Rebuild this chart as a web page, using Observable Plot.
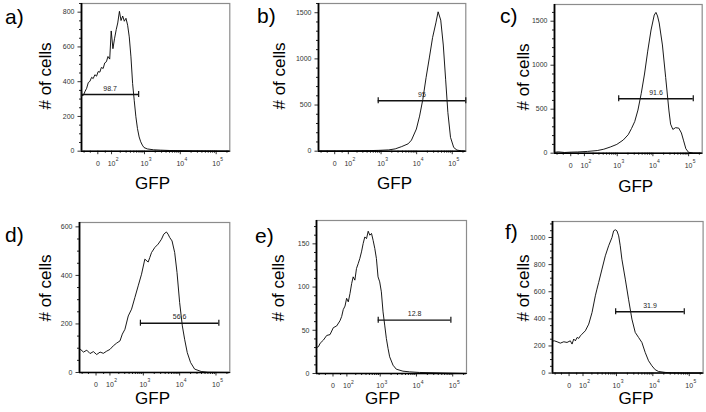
<!DOCTYPE html>
<html><head><meta charset="utf-8">
<script src="https://cdn.jsdelivr.net/npm/d3@7"></script>
<script src="https://cdn.jsdelivr.net/npm/@observablehq/plot@0.6"></script>
<style>
body{margin:0;background:#fff;}
#wrap{position:relative;width:706px;height:412px;overflow:hidden;background:#fff;font-family:"Liberation Sans",Arial,sans-serif;}
.lbl{position:absolute;white-space:nowrap;line-height:1;color:#000;}
</style></head><body><div id="wrap"></div>
<script>
// ---- data (GFP intensity, # of cells) ----
const gfpA = [-125,-106,-91,-78,-65,-53,-41,-30,-19,-8,2,13,23,35,46,58,70,84,97,113,130,148,166,188,211,237,265,297,332,370,414,462,513,572,635,707,784,870,968,1200,1800,2800,5000,20000,240000];
const countA = [320,322,345,362,395,402,425,418,440,432,458,455,482,476,508,515,545,530,692,590,650,700,738,805,752,778,748,765,725,658,543,389,293,198,130,82,54,35,21,13,8,6,4,2,0];

const gfpB = [-125,13,147,458,869,1640,2500,3810,5780,7160,9820,12100,14900,18460,22700,28000,34700,40100,47500,56000,65100,75300,89300,110000,135500,185700,240000];
const countB = [3,3,4,6,9,14,25,50,80,120,240,380,560,800,1010,1230,1390,1510,1420,1150,780,420,150,40,12,3,0];

const gfpC = [-125,-90,-40,2.5,46,130,267,414,636,973,1480,2030,2510,3100,3810,4720,5820,7160,8870,10900,12160,13450,15000,18460,22800,28200,31300,36200,43000,53000,62800,72600,83900,99500,136000,240000];
const countC = [10,15,8,12,14,20,30,45,70,100,150,210,280,360,490,680,900,1160,1400,1570,1600,1560,1480,1230,860,480,330,270,290,285,230,140,50,10,2,0];

const gfpD = [-125,-112,-88,-62,-39,-17,4,26,48,73,100,133,171,217,255,304,379,470,582,720,891,1100,1360,1510,1680,2070,2560,3160,3660,4320,4800,5340,6180,7310,8470,10000,11860,13700,16200,20000,25800,39300,60000,240000];
const countD = [98,94,84,92,78,86,74,84,79,88,95,110,121,130,158,178,233,261,309,357,405,467,455,474,494,515,529,549,570,579,570,556,542,494,412,288,192,137,82,41,14,4,1,0];

const gfpE = [-125,-106,-91,-65,-41,-19,2,23.5,45.8,58,70,84,97.6,113,130,148,166,188,211,237,265,297,332,370,414,462,513,572,635,707,784,870,968,1075,1197,1330,1480,1645,1825,2260,2780,4230,6450,12100,34700,240000];
const countE = [30,31,35,38.6,44,45,53,55,61,66,74,78,87,82.9,92.5,104,111.8,108,121.5,127,133,140.7,150.4,158,156,164.6,160,162,154,144.6,133,111.8,106,94.5,71.3,56,40.5,29,19.3,9.6,5,2.7,1.9,1.2,0.8,0];

const gfpF = [-125,-107,-83,-58,-34,-13,8,19,30,41,53,65,78,91,122,159,202,254,283,317,395,490,607,750,835,928,1030,1150,1270,1410,1750,2150,2660,3280,4050,5000,6170,7620,9400,11600,14300,21800,33200,76800,240000];
const countF = [236,238,231,221,231,226,238,214,251,238,263,256,275,287,312,361,447,570,619,668,767,865,939,1000,1049,1057,1049,1012,939,840,693,545,398,300,263,226,152,91,54,25,12,5,2,0,0];

// gates
const gateLo = [-125,830,1100,830,880,950];
const gateHi = [685,240000,135000,120000,89000,73000];
const gateCount = [326,546,618,203,61.7,452];
const gateLabel = ["98.7","95","91.6","56.6","12.8","31.9"];

// axis ticks
const xMajor = [0,100,1000,10000,100000];
const xLabelBase = ["0","10","10","10","10"];
const xLabelExp = ["","2","3","4","5"];
const xMinor = [-100,-50,50,200,300,400,500,600,700,800,900,2000,3000,4000,5000,6000,7000,8000,9000,20000,30000,40000,50000,60000,70000,80000,90000,200000];
const yMajorA = [0,200,400,600,800];
const yMajorB = [0,500,1000,1500];
const yMajorC = [0,500,1000,1500];
const yMajorD = [0,200,400,600];
const yMajorE = [0,50,100,150];
const yMajorF = [0,200,400,600,800,1000];
const yMinorStep = [50,100,100,50,10,50];
const yMax = [850,1600,1690,618,177,1118];
const letters = ["a)","b)","c)","d)","e)","f)"];

const xMin = -125, xMax = 240000;
const T = v => Math.asinh(v / 100) / Math.LN10; // biexponential-like display transform

const series = [[gfpA,countA],[gfpB,countB],[gfpC,countC],[gfpD,countD],[gfpE,countE],[gfpF,countF]];
const yMajors = [yMajorA,yMajorB,yMajorC,yMajorD,yMajorE,yMajorF];

// layout (frame left,right,top,bottom) and text anchors
const frames = [[81,229.3,3.3,151],[317.7,465,3,150.7],[554.3,702,4,152.7],[79,229.3,221.7,371.7],[316,466,220.3,373.3],[551.7,702.3,220.7,372.3]];
const letterPos = [[5,24],[257,23],[500,23],[5,242],[255,243],[505,239]];
const yLabPos = [[44.5,76],[279.2,76],[522.5,76.7],[44.5,287.5],[278.3,287.5],[522.5,287.5]];
const xLabPos = [[152.5,183.3],[394.5,183.3],[635.7,186],[152.5,397.5],[382.5,397.5],[636,398.3]];

const wrap = document.getElementById("wrap");
const xMajorT = xMajor.map(T);
const expRows = xMajor.map((v, i) => ({v, e: xLabelExp[i]})).filter(d => d.e);
const font = "Liberation Sans, Arial, sans-serif";

series.forEach(([gfp, cnt], k) => {
  const [L, R, T0, B] = frames[k];
  const padL = 45, padR = 15, padT = 10, padB = 25;
  const rows = gfp.map((g, i) => ({gfp: g, count: cnt[i]}));
  const minor = d3.range(0, yMax[k] + 1e-9, yMinorStep[k]).filter(v => !yMajors[k].includes(v));
  const gate = {lo: gateLo[k], hi: gateHi[k], y: gateCount[k], label: gateLabel[k]};
  const caps = [{x: gate.lo, y: gate.y}, {x: gate.hi, y: gate.y}];
  const chart = Plot.plot({
    width: R - L + padL + padR,
    height: B - T0 + padT + padB,
    marginLeft: padL, marginRight: padR, marginTop: padT, marginBottom: padB,
    style: {background: "transparent", overflow: "visible", fontFamily: font},
    x: {domain: [T(xMin), T(xMax)]},
    y: {domain: [0, yMax[k]]},
    marks: [
      Plot.frame({stroke: "#8c8c8c", strokeWidth: 1.2}),
      Plot.axisY(minor, {tickSize: 2, tickFormat: () => "", label: null, color: "#222"}),
      Plot.axisY(yMajors[k], {tickSize: 3.5, tickPadding: 3.5, fontSize: 7, label: null, color: "#333", tickFormat: d => String(d)}),
      Plot.axisX(xMinor.map(T), {tickSize: 2, tickFormat: () => "", label: null, color: "#222"}),
      Plot.axisX(xMajorT, {tickSize: 3.5, tickPadding: 6, fontSize: 7, label: null, color: "#333",
        tickFormat: d => xLabelBase[xMajorT.findIndex(v => Math.abs(v - d) < 1e-9)]}),
      Plot.text(expRows, {x: d => T(d.v), text: "e", frameAnchor: "bottom", dx: 5.6, dy: 10, fontSize: 5, fill: "#333"}),
      Plot.ruleY([0], {stroke: "#000", strokeWidth: 1.5}),
      Plot.ruleX([T(xMin)], {stroke: "#000", strokeWidth: 1.8}),
      Plot.line(rows, {x: d => T(d.gfp), y: "count", stroke: "#000", strokeWidth: 0.9}),
      Plot.ruleY([gate], {y: "y", x1: d => T(d.lo), x2: d => T(d.hi), stroke: "#111", strokeWidth: 1.4}),
      Plot.ruleX(caps, {x: d => T(d.x), y1: "y", y2: "y", insetTop: -3, insetBottom: -3, stroke: "#111", strokeWidth: 1.2}),
      Plot.text([gate], {x: d => (T(d.lo) + T(d.hi)) / 2, y: "y", text: "label", dy: -6, fontSize: 7, fill: "#222"})
    ]
  });
  chart.style.position = "absolute";
  chart.style.left = (L - padL) + "px";
  chart.style.top = (T0 - padT) + "px";
  wrap.appendChild(chart);

  const let_ = document.createElement("div");
  let_.className = "lbl";
  let_.textContent = letters[k];
  let_.style.fontSize = "21px";
  let_.style.left = letterPos[k][0] + "px";
  let_.style.top = (letterPos[k][1] - 0.8465 * 21) + "px";
  wrap.appendChild(let_);

  const yl = document.createElement("div");
  yl.className = "lbl";
  yl.textContent = "# of cells";
  yl.style.fontSize = "17px";
  yl.style.left = yLabPos[k][0] + "px";
  yl.style.top = yLabPos[k][1] + "px";
  yl.style.transform = "translate(-50%,-50%) rotate(-90deg)";
  wrap.appendChild(yl);

  const xl = document.createElement("div");
  xl.className = "lbl";
  xl.textContent = "GFP";
  xl.style.fontSize = "17px";
  xl.style.left = xLabPos[k][0] + "px";
  xl.style.top = xLabPos[k][1] + "px";
  xl.style.transform = "translate(-50%,-50%)";
  wrap.appendChild(xl);
});
</script>
</body></html>
